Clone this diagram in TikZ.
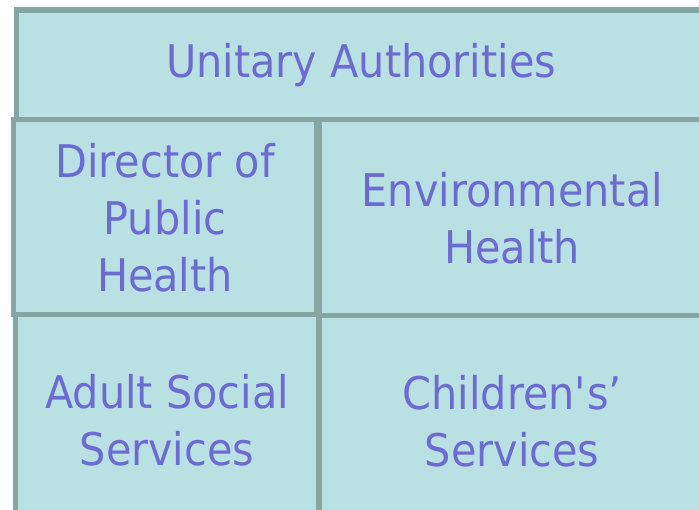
\documentclass[tikz,border=0pt]{standalone}
\usepackage{fontspec}
\setmainfont{DejaVu Sans}[FakeStretch=0.92]
\usepackage{xcolor}
\definecolor{cellfill}{HTML}{B9E0E3}
\definecolor{cellline}{HTML}{86A5A5}
\definecolor{celltext}{HTML}{6B6BD2}

\begin{document}
\begin{tikzpicture}[x=1pt, y=-1pt,
                    cell/.style={draw=cellline, fill=cellfill, line width=5.5pt,
                                 text=celltext, align=center, inner sep=0pt,
                                 anchor=north west,
                                 font=\fontsize{45}{57}\selectfont}]
  \useasboundingbox (0,0) rectangle (699,510);

  % top row
  \node[cell, minimum width=690pt, minimum height=109.5pt] (ua) at (13.5,7.5)
    {Unitary Authorities};

  % middle and bottom rows
  \node[cell, minimum width=387pt, minimum height=196pt] (env) at (316,117)
    {Environmental\\Health};
  \node[cell, minimum width=303.5pt, minimum height=210pt] (adult) at (12.5,312)
    {Adult Social\\Services};
  \node[cell, minimum width=387pt, minimum height=210pt] (child) at (316,313)
    {Children\textquotesingle s’\\Services};
  \node[cell, minimum width=303.5pt, minimum height=195pt] (dph) at (10.5,117)
    {Director of\\Public\\Health};
\end{tikzpicture}
\end{document}
